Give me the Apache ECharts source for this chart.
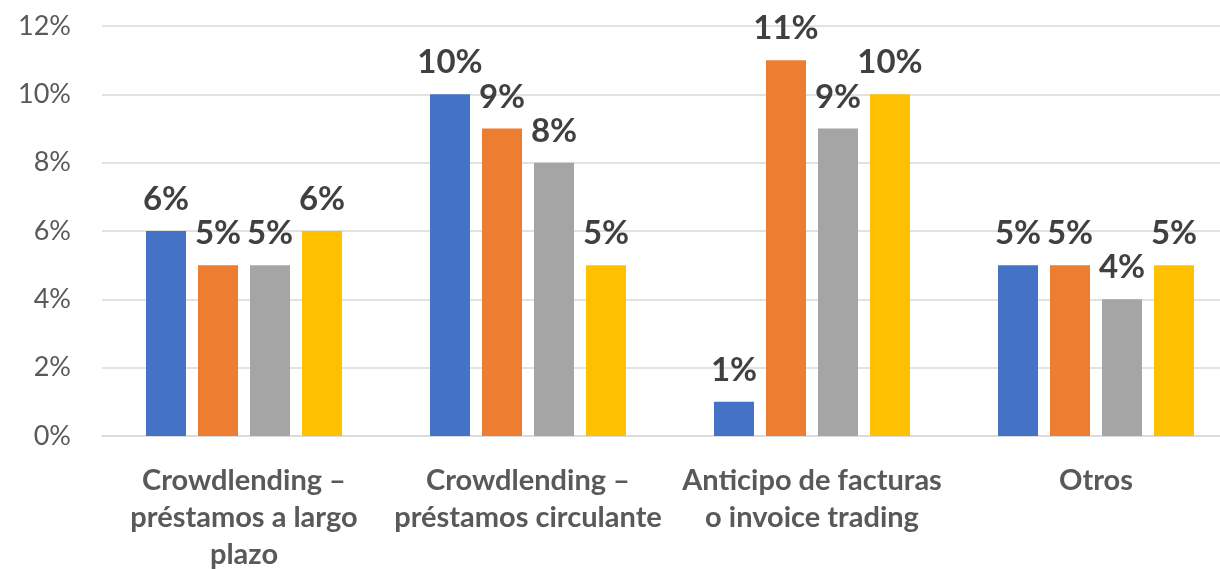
<!DOCTYPE html>
<html>
<head>
<meta charset="utf-8">
<script src="https://cdn.jsdelivr.net/npm/echarts@6/dist/echarts.min.js"></script>
<style>html,body{margin:0;padding:0;background:#fff;}#c{width:1220px;height:569px;}</style>
</head>
<body>
<div id="c"></div>
<script>
const categories = ["Crowdlending –\npréstamos a largo\nplazo", "Crowdlending –\npréstamos circulante", "Anticipo de facturas\no invoice trading", "Otros"];
const series1 = [6, 10, 1, 5];
const series2 = [5, 9, 11, 5];
const series3 = [5, 8, 9, 4];
const series4 = [6, 5, 10, 5];
const colors = ["#4472C4", "#ED7D31", "#A5A5A5", "#FFC000"];
const font = "Lato, 'Open Sans', sans-serif";

const chart = echarts.init(document.getElementById('c'));
function mk(data, i) {
  return {
    type: 'bar', data: data, barWidth: 40, barGap: '30%',
    itemStyle: { color: colors[i] },
    label: { show: true, position: 'top', distance: 15, formatter: '{c}%', color: '#404040', fontSize: 33, fontWeight: 'bold', fontFamily: font },
    animation: false
  };
}
chart.setOption({
  animation: false,
  grid: { left: 102, width: 1136, top: 26, height: 410, containLabel: false, outerBoundsMode: 'none' },
  xAxis: {
    type: 'category', data: categories,
    axisLine: { lineStyle: { color: '#d9d9d9', width: 1.5 } },
    axisTick: { show: false },
    axisLabel: { color: '#595959', fontSize: 29, fontWeight: 'bold', fontFamily: font, lineHeight: 37, margin: 26, interval: 0 }
  },
  yAxis: {
    type: 'value', min: 0, max: 12, interval: 2,
    axisLabel: { formatter: '{value}%', color: '#595959', fontSize: 27, fontFamily: font, margin: 31 },
    splitLine: { lineStyle: { color: '#d9d9d9', width: 1.5 } },
    axisLine: { show: false }, axisTick: { show: false }
  },
  series: [mk(series1, 0), mk(series2, 1), mk(series3, 2), mk(series4, 3)]
});
</script>
</body>
</html>
